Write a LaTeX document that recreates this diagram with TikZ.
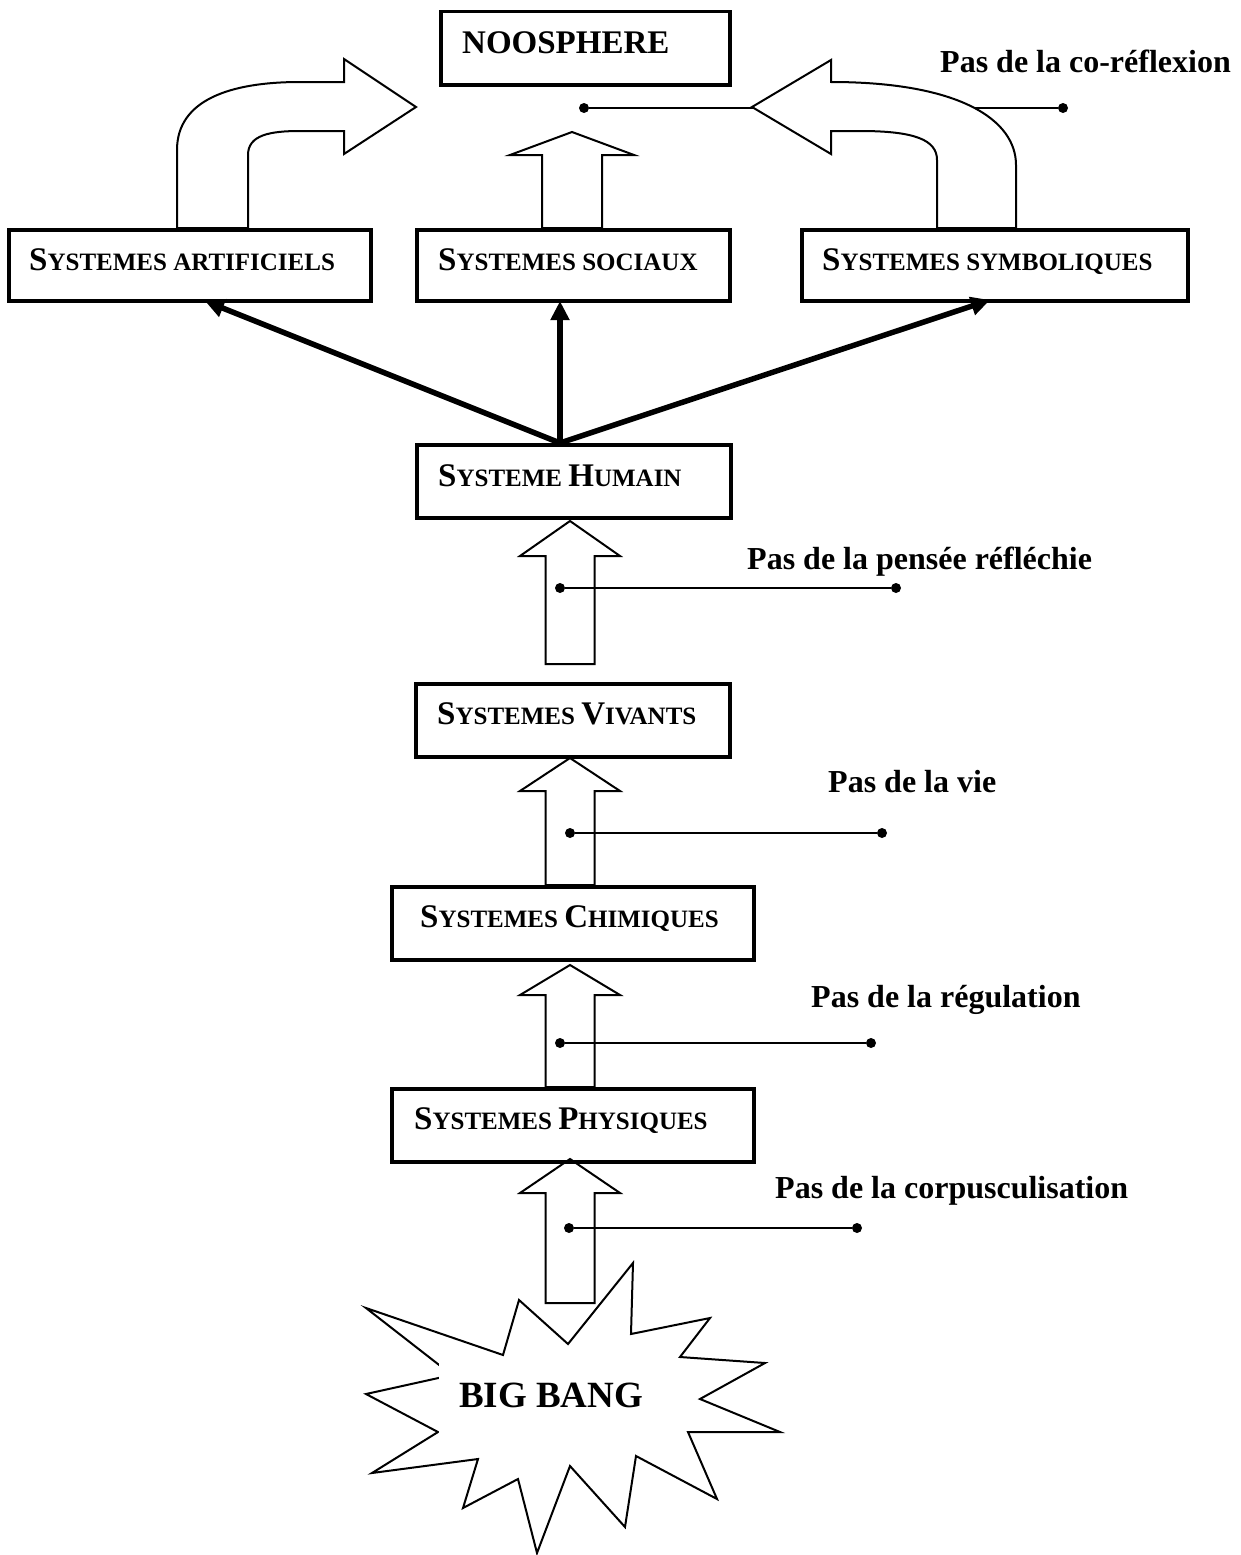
\documentclass[tikz,border=0pt]{standalone}
\usepackage{fontspec}
\setmainfont{Liberation Serif}
\usetikzlibrary{arrows.meta}
\newcommand{\bigc}[1]{{\fontsize{33}{40}\selectfont #1}}
\newcommand{\smc}[1]{{\fontsize{25}{30}\selectfont #1}}
\newcommand{\upblock}[6]{\draw[blockarrow] ({#1-#5},#4) -- ({#1-#5},#3) -- ({#1-#6},#3) -- (#1,#2) -- ({#1+#6},#3) -- ({#1+#5},#3) -- ({#1+#5},#4) -- cycle;}
\tikzset{
  sysbox/.style={draw, line width=3.5pt, inner sep=0pt, anchor=north west},
  boxtext/.style={anchor=base west, inner sep=0pt, font=\bfseries\fontsize{25}{30}\selectfont},
  steplabel/.style={anchor=base west, inner sep=0pt, font=\bfseries\fontsize{32}{38}\selectfont},
  blockarrow/.style={draw, fill=white, line width=2pt, line join=miter},
  dotnode/.style={circle, fill=black, inner sep=0pt, minimum size=10pt},
  dotline/.style={line width=2pt},
  thickarrow/.style={line width=5.5pt, -{Triangle[length=19pt,width=18pt]}},
  starshape/.style={draw, fill=white, line width=2pt, line join=miter},
}
\begin{document}
\begin{tikzpicture}[x=1pt, y=-1pt]
\useasboundingbox (0,0) rectangle (1240,1555);

% co-reflexion line (behind the curved arrow)
\node[dotnode] (cra) at (584,108) {};
\node[dotnode] (crb) at (1063,108) {};
\draw[dotline] (cra) -- (crb);

% curved arrow from artificiels
\draw[blockarrow] (177,228) -- (177,150) .. controls (177,100) and (230,82) .. (300,82)
  -- (344,82) -- (344,59) -- (416,107) -- (344,154) -- (344,131) -- (300,131)
  .. controls (270,131) and (248,135) .. (248,155) -- (248,228) -- cycle;

% curved arrow from symboliques
\draw[blockarrow] (1016,228) -- (1016,165) .. controls (1016,120) and (960,82) .. (831,82)
  -- (831,60) -- (752,107) -- (831,154) -- (831,131) -- (860,131)
  .. controls (915,131) and (937,140) .. (937,160) -- (937,228) -- cycle;

% up arrow from sociaux
\upblock{572}{132}{155}{228}{30}{62}

% up arrows of the chain
\upblock{570}{521}{556}{664}{24.5}{50}
\upblock{570}{758}{791}{885}{24.5}{50}
\upblock{570}{965}{995}{1087}{24.5}{50}
\upblock{570}{1159}{1193}{1303}{24.5}{50}

% big bang star
\draw[starshape] (366,1308) -- (503,1355) -- (519,1300) -- (568,1344) -- (633,1263)
  -- (631,1334) -- (710,1318) -- (680,1357) -- (765,1363) -- (700,1399)
  -- (780,1432) -- (688,1432) -- (717,1499) -- (636,1456) -- (625,1527)
  -- (570,1466) -- (537,1553) -- (518,1479) -- (463,1508) -- (478,1459)
  -- (372,1473) -- (438,1432) -- (366,1394) -- (452,1375) -- cycle;
\node[fill=white, inner sep=0pt, minimum width=224pt, minimum height=76pt,
  font=\bfseries\fontsize{37}{44}\selectfont] (bang) at (551,1395) {BIG BANG};

% boxes
\node[sysbox, minimum width=289pt, minimum height=73pt] (noo) at (439,10) {};
\node[sysbox, minimum width=362pt, minimum height=71pt] (art) at (7,228) {};
\node[sysbox, minimum width=313pt, minimum height=71pt] (soc) at (415,228) {};
\node[sysbox, minimum width=386pt, minimum height=71pt] (sym) at (800,228) {};
\node[sysbox, minimum width=314pt, minimum height=73pt] (hum) at (415,443) {};
\node[sysbox, minimum width=314pt, minimum height=73pt] (viv) at (414,682) {};
\node[sysbox, minimum width=362pt, minimum height=73pt] (chi) at (390,885) {};
\node[sysbox, minimum width=362pt, minimum height=73pt] (phy) at (390,1087) {};

% box texts
\node[boxtext, font=\bfseries\fontsize{33}{40}\selectfont] (nooT) at (462,53) {NOOSPHERE};
\node[boxtext] (artT) at (29,270) {\bigc{S}\smc{YSTEMES ARTIFICIELS}};
\node[boxtext] (socT) at (438,270) {\bigc{S}\smc{YSTEMES SOCIAUX}};
\node[boxtext] (symT) at (822,270) {\bigc{S}\smc{YSTEMES SYMBOLIQUES}};
\node[boxtext] (humT) at (438,486) {\bigc{S}\smc{YSTEME} \bigc{H}\smc{UMAIN}};
\node[boxtext] (vivT) at (437,724) {\bigc{S}\smc{YSTEMES} \bigc{V}\smc{IVANTS}};
\node[boxtext] (chiT) at (420,927) {\bigc{S}\smc{YSTEMES} \bigc{C}\smc{HIMIQUES}};
\node[boxtext] (phyT) at (414,1129) {\bigc{S}\smc{YSTEMES} \bigc{P}\smc{HYSIQUES}};

% step labels
\node[steplabel] (lco) at (940,73) {Pas de la co-réflexion};
\node[steplabel] (lpe) at (747,569) {Pas de la pensée réfléchie};
\node[steplabel] (lvi) at (828,792) {Pas de la vie};
\node[steplabel] (lre) at (811,1007) {Pas de la régulation};
\node[steplabel] (lcp) at (775,1198) {Pas de la corpusculisation};

% step lines with dots
\node[dotnode] (pea) at (560,588) {};
\node[dotnode] (peb) at (896,588) {};
\draw[dotline] (pea) -- (peb);
\node[dotnode] (via) at (570,833) {};
\node[dotnode] (vib) at (882,833) {};
\draw[dotline] (via) -- (vib);
\node[dotnode] (rea) at (560,1043) {};
\node[dotnode] (reb) at (871,1043) {};
\draw[dotline] (rea) -- (reb);
\node[dotnode] (cpa) at (569,1228) {};
\node[dotnode] (cpb) at (857,1228) {};
\draw[dotline] (cpa) -- (cpb);

% thick arrows from humain
\coordinate (hs) at (560,443);
\coordinate (ta) at (205,301);
\coordinate (ts) at (560,301);
\coordinate (ty) at (990,300);
\draw[thickarrow] (hs) -- (ta);
\draw[thickarrow] (hs) -- (ts);
\draw[thickarrow] (hs) -- (ty);
\end{tikzpicture}
\end{document}
